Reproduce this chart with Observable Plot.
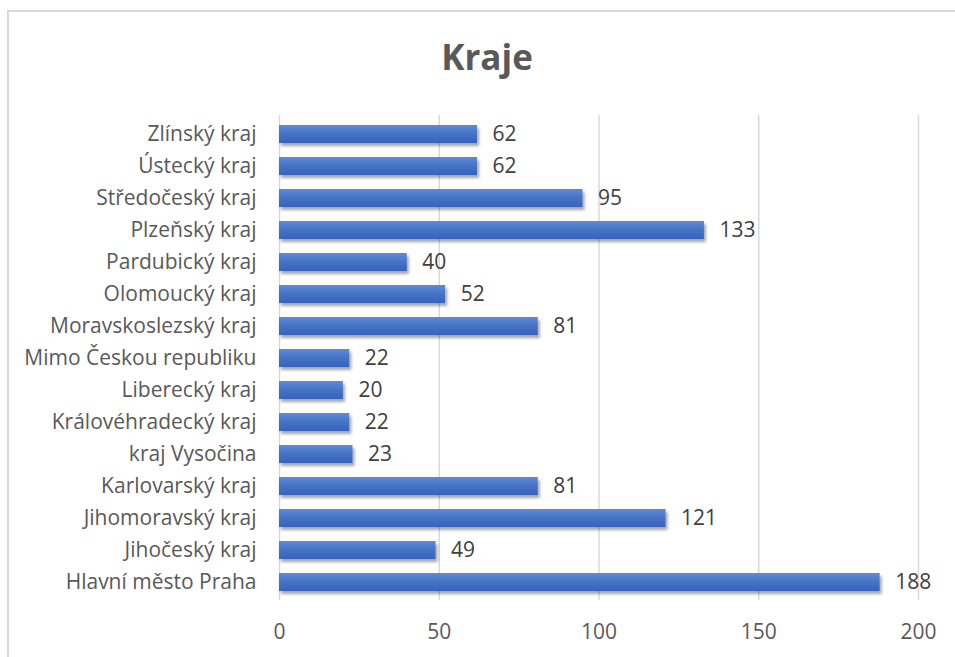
<!DOCTYPE html>
<html><head><meta charset="utf-8">
<script src="https://cdn.jsdelivr.net/npm/d3@7"></script>
<script src="https://cdn.jsdelivr.net/npm/@observablehq/plot@0.6"></script>
<style>
body{margin:0;background:#fff;width:955px;height:657px;overflow:hidden;position:relative;font-family:"Open Sans",sans-serif}
#frame{position:absolute;left:7px;top:10px;width:1000px;height:700px;border:2px solid #d9d9d9;box-sizing:border-box}
#title{position:absolute;left:0;width:974px;top:37px;text-align:center;font-size:35px;font-weight:bold;color:#595959;line-height:40px}
#chart{position:absolute;left:0;top:0}
</style></head><body>
<div id="frame"></div>
<div id="title">Kraje</div>
<div id="chart"></div>
<script>
const categories = [
  "Zlínský kraj","Ústecký kraj","Středočeský kraj","Plzeňský kraj","Pardubický kraj",
  "Olomoucký kraj","Moravskoslezský kraj","Mimo Českou republiku","Liberecký kraj",
  "Královéhradecký kraj","kraj Vysočina","Karlovarský kraj","Jihomoravský kraj",
  "Jihočeský kraj","Hlavní město Praha"
];
const values = [62,62,95,133,40,52,81,22,20,22,23,81,121,49,188];
const xTicks = [0,50,100,150,200];
const data = categories.map((c,i)=>({kraj:c, pocet:values[i]}));

const svg = Plot.plot({
  width:955, height:657,
  marginLeft:279, marginRight:37, marginTop:115, marginBottom:57,
  x:{domain:[0,200]},
  y:{domain:categories, paddingInner:0.44, paddingOuter:0.22},
  style:{fontFamily:"'Open Sans', sans-serif", fontSize:"21px", color:"#595959", background:"transparent", overflow:"visible"},
  marks:[
    Plot.ruleX(xTicks.slice(1), {stroke:"#d9d9d9", strokeWidth:1.5}),
    Plot.ruleX([0], {stroke:"#d9d9d9", strokeWidth:1.5}),
    Plot.barX(data, {x:"pocet", y:"kraj", fill:"url(#barGrad)"}),
    Plot.text(data, {x:"pocet", y:"kraj", text:d=>String(d.pocet), dx:15, textAnchor:"start", fill:"#404040", fontSize:21}),
    Plot.axisX({ticks:xTicks, tickSize:0, tickPadding:24, anchor:"bottom", fontSize:21, label:null}),
    Plot.axisY({tickSize:0, tickPadding:23, fontSize:21, label:null})
  ]
});
const s = d3.select(svg);
s.insert("defs",":first-child").html(`
  <linearGradient id="barGrad" x1="0" y1="0" x2="0" y2="1">
    <stop offset="0%" stop-color="#6289d6"/>
    <stop offset="50%" stop-color="#4673c6"/>
    <stop offset="100%" stop-color="#3763bd"/>
  </linearGradient>
  <filter id="shadow" x="-5%" y="-50%" width="115%" height="250%">
    <feDropShadow dx="2" dy="3" stdDeviation="1.8" flood-color="#000" flood-opacity="0.35"/>
  </filter>`);
s.selectAll('g[aria-label="bar"]').attr("filter","url(#shadow)");
document.getElementById("chart").appendChild(svg);
</script>
</body></html>
